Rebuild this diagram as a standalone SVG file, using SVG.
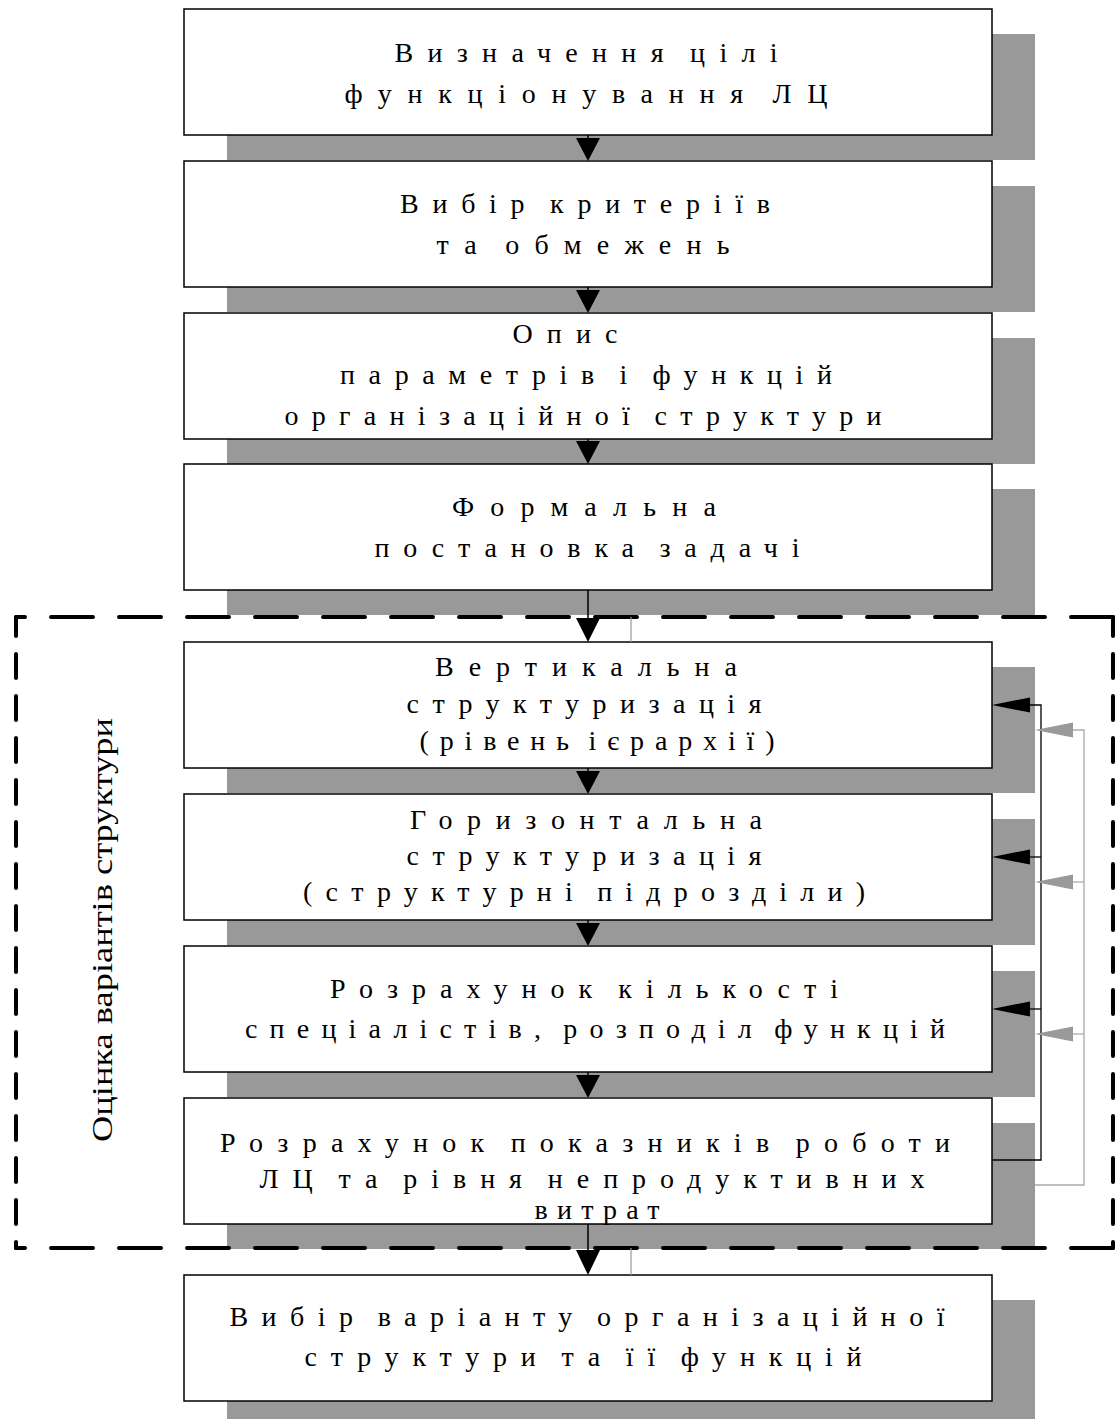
<svg xmlns="http://www.w3.org/2000/svg" width="1117" height="1419" viewBox="0 0 1117 1419">
<style>
.shadow{fill:#999999}
.box{fill:#ffffff;stroke:#000000;stroke-width:1.5}
.t{font-family:"Liberation Serif","Times New Roman",serif;font-size:28px;fill:#000;text-anchor:middle;word-spacing:-9px}
.lbl{font-family:"Liberation Serif","Times New Roman",serif;font-size:30px;fill:#000;text-anchor:middle}
.flow{stroke:#000;stroke-width:1.5;fill:none}
.fb{stroke:#000;stroke-width:1.3;fill:none}
.fbg{stroke:#aaaaaa;stroke-width:1.3;fill:none}
.dash{stroke:#000;stroke-width:4;stroke-linecap:round;fill:none}
.thin{stroke:#999999;stroke-width:1.2;fill:none}
</style>
<rect width="1117" height="1419" fill="#ffffff"/>

<g id="node1">
<rect class="shadow" x="227" y="34" width="808" height="126"/>
<rect class="box" x="184" y="9" width="808" height="126"/>
<text class="t" x="586" y="62" textLength="383" lengthAdjust="spacing">Визначення цілі</text>
<text class="t" x="586" y="103" textLength="483" lengthAdjust="spacing">функціонування ЛЦ</text>
</g>

<g id="node2">
<rect class="shadow" x="227" y="186" width="808" height="126"/>
<rect class="box" x="184" y="161" width="808" height="126"/>
<text class="t" x="585" y="213" textLength="370" lengthAdjust="spacing">Вибір критеріїв</text>
<text class="t" x="583" y="254" textLength="293" lengthAdjust="spacing">та обмежень</text>
</g>

<g id="node3">
<rect class="shadow" x="227" y="338" width="808" height="126"/>
<rect class="box" x="184" y="313" width="808" height="126"/>
<text class="t" x="565" y="343" textLength="105" lengthAdjust="spacing">Опис</text>
<text class="t" x="586" y="384" textLength="492" lengthAdjust="spacing">параметрів і функцій</text>
<text class="t" x="583" y="425" textLength="597" lengthAdjust="spacing">організаційної структури</text>
</g>

<g id="node4">
<rect class="shadow" x="227" y="489" width="808" height="126"/>
<rect class="box" x="184" y="464" width="808" height="126"/>
<text class="t" x="584" y="516" textLength="264" lengthAdjust="spacing">Формальна</text>
<text class="t" x="587" y="557" textLength="425" lengthAdjust="spacing">постановка задачі</text>
</g>

<g id="node5">
<rect class="shadow" x="227" y="667" width="808" height="126"/>
<rect class="box" x="184" y="642" width="808" height="126"/>
<text class="t" x="586" y="676" textLength="302" lengthAdjust="spacing">Вертикальна</text>
<text class="t" x="584" y="713" textLength="355" lengthAdjust="spacing">структуризація</text>
<text class="t" x="597" y="750" textLength="355" lengthAdjust="spacing">(рівень ієрархії)</text>
</g>

<g id="node6">
<rect class="shadow" x="227" y="819" width="808" height="126"/>
<rect class="box" x="184" y="794" width="808" height="126"/>
<text class="t" x="586" y="829" textLength="352" lengthAdjust="spacing">Горизонтальна</text>
<text class="t" x="584" y="865" textLength="355" lengthAdjust="spacing">структуризація</text>
<text class="t" x="584" y="901" textLength="562" lengthAdjust="spacing">(структурні підрозділи)</text>
</g>

<g id="node7">
<rect class="shadow" x="227" y="971" width="808" height="126"/>
<rect class="box" x="184" y="946" width="808" height="126"/>
<text class="t" x="584" y="998" textLength="508" lengthAdjust="spacing">Розрахунок кількості</text>
<text class="t" x="595" y="1038" textLength="700" lengthAdjust="spacing">спеціалістів, розподіл функцій</text>
</g>

<g id="node8">
<rect class="shadow" x="227" y="1123" width="808" height="126"/>
<rect class="box" x="184" y="1098" width="808" height="126"/>
<text class="t" x="585" y="1152" textLength="730" lengthAdjust="spacing">Розрахунок показників роботи</text>
<text class="t" x="592" y="1188" textLength="665" lengthAdjust="spacing">ЛЦ та рівня непродуктивних</text>
<text class="t" x="597" y="1219" textLength="125" lengthAdjust="spacing">витрат</text>
</g>

<g id="node9">
<rect class="shadow" x="227" y="1300" width="808" height="126"/>
<rect class="box" x="184" y="1275" width="808" height="126"/>
<text class="t" x="587" y="1326" textLength="715" lengthAdjust="spacing">Вибір варіанту організаційної</text>
<text class="t" x="583" y="1366" textLength="557" lengthAdjust="spacing">структури та її функцій</text>
</g>

<g id="group-frame">
<line class="dash" x1="16" y1="617" x2="1113" y2="617" stroke-dasharray="42 26" stroke-dashoffset="33"/>
<line class="dash" x1="16" y1="1248" x2="1113" y2="1248" stroke-dasharray="42 26" stroke-dashoffset="33"/>
<line class="dash" x1="16" y1="617" x2="16" y2="1248" stroke-dasharray="24 18" stroke-dashoffset="5"/>
<line class="dash" x1="1113" y1="617" x2="1113" y2="1248" stroke-dasharray="24 18" stroke-dashoffset="5"/>
<text class="lbl" transform="translate(112,930) rotate(-90)" textLength="424" lengthAdjust="spacingAndGlyphs">Оцінка варіантів структури</text>
</g>

<g id="connectors">
<line class="flow" x1="588" y1="135" x2="588" y2="140"/>
<polygon points="576,138 600,138 588,161" fill="#000"/>
<line class="flow" x1="588" y1="287" x2="588" y2="292"/>
<polygon points="576,290 600,290 588,313" fill="#000"/>
<line class="flow" x1="588" y1="439" x2="588" y2="443"/>
<polygon points="576,441 600,441 588,464" fill="#000"/>
<line class="flow" x1="588" y1="590" x2="588" y2="620"/>
<polygon points="576,618 600,618 588,642" fill="#000"/>
<line class="flow" x1="588" y1="768" x2="588" y2="773"/>
<polygon points="576,771 600,771 588,794" fill="#000"/>
<line class="flow" x1="588" y1="920" x2="588" y2="925"/>
<polygon points="576,923 600,923 588,946" fill="#000"/>
<line class="flow" x1="588" y1="1072" x2="588" y2="1077"/>
<polygon points="576,1075 600,1075 588,1098" fill="#000"/>
<line class="flow" x1="588" y1="1224" x2="588" y2="1252"/>
<polygon points="576,1250 600,1250 588,1275" fill="#000"/>

<line class="thin" x1="631" y1="617" x2="631" y2="642"/>
<line class="thin" x1="631" y1="1248" x2="631" y2="1275"/>

<polyline class="fb" points="992,1160 1041,1160 1041,705 1030,705"/>
<line class="fb" x1="1041" y1="857" x2="1030" y2="857"/>
<line class="fb" x1="1041" y1="1009" x2="1030" y2="1009"/>
<polygon points="992,705 1030,697.5 1030,712.5" fill="#000"/>
<polygon points="992,857 1030,849.5 1030,864.5" fill="#000"/>
<polygon points="992,1009 1030,1001.5 1030,1016.5" fill="#000"/>

<polyline class="fbg" points="1035,1185 1084,1185 1084,730 1073,730"/>
<line class="fbg" x1="1084" y1="882" x2="1073" y2="882"/>
<line class="fbg" x1="1084" y1="1034" x2="1073" y2="1034"/>
<polygon points="1035,730 1073,722.5 1073,737.5" fill="#999999"/>
<polygon points="1035,882 1073,874.5 1073,889.5" fill="#999999"/>
<polygon points="1035,1034 1073,1026.5 1073,1041.5" fill="#999999"/>
</g>
</svg>
